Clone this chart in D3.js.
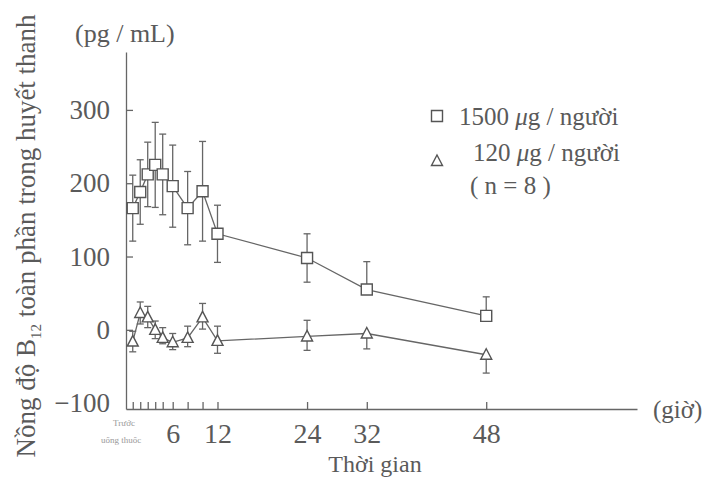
<!DOCTYPE html>
<html>
<head>
<meta charset="utf-8">
<script src="https://cdn.jsdelivr.net/npm/d3@7"></script>
<style>
  body { margin: 0; background: #fff; }
  svg text { font-family: "Liberation Serif", "DejaVu Serif", serif; }
</style>
</head>
<body>
<div id="chart"></div>
<script>
// data (hours, pg/mL)
var times = [0, 1, 2, 3, 4, 6, 8, 10, 12, 24, 32, 48]
var tickLabels = { 6: '6', 12: '12', 24: '24', 32: '32', 48: '48' }
var yTicks = [-100, 0, 100, 200, 300]

var dose1500 = [166, 188, 212, 225, 212, 196, 166, 189, 131, 98, 55, 19]
var dose1500Up = [45, 44, 44, 58, 55, 56, 50, 68, 39, 33, 38, 26]
var dose1500Down = [45, 44, 44, 58, 55, 56, 50, 68, 39, 33, 0, 0]

var dose120 = [-16, 23, 17, 0, -11, -17, -11, 17, -15, -9, -5, -34]
var dose120Up = [14, 15, 15, 12, 14, 12, 16, 19, 20, 22, 0, 0]
var dose120Down = [14, 15, 14, 12, 8, 10, 12, 16, 17, 19, 21, 25]

var width = 706
var height = 485
var ink = '#666'
var textInk = '#5a5a5a'

var svg = d3.select('#chart')
  .append('svg')
  .attr('width', width)
  .attr('height', height)

// x scale is stretched a bit at the start, like the original
var x = d3.scaleLinear()
  .domain([-0.9, 4, 6, 68.2])
  .range([126, 162.7, 172.7, 637])

var y = d3.scaleLinear()
  .domain([-108, 379])
  .range([409, 52])

// axes
var yAxis = svg.append('g')
  .attr('transform', 'translate(126,0)')
  .call(d3.axisLeft(y).tickValues(yTicks).tickSize(-7).tickSizeOuter(0).tickPadding(16))
yAxis.selectAll('.tick').filter(d => d === -100).select('line').remove()
yAxis.selectAll('text').style('font-size', '27px').style('fill', textInk)
  .text(d => d < 0 ? '\u2212' + Math.abs(d) : d)

var xAxis = svg.append('g')
  .attr('transform', 'translate(0,409)')
  .call(d3.axisBottom(x).tickValues(times).tickSize(-7).tickSizeOuter(0).tickPadding(14)
    .tickFormat(d => tickLabels[d] || ''))
xAxis.selectAll('text').style('font-size', '28px').style('fill', textInk)

svg.selectAll('.domain, .tick line').attr('stroke', ink).attr('stroke-width', 1.3)

// tiny label under first tick
var pre = svg.append('text')
  .attr('text-anchor', 'middle')
  .style('font-size', '9px')
  .style('fill', '#999')
pre.append('tspan').attr('x', 124).attr('y', 426).text('Trước')
pre.append('tspan').attr('x', 121).attr('y', 443).text('uống thuốc')

// axis titles
var yTitle = svg.append('text')
  .attr('transform', 'translate(35,236) rotate(-90)')
  .attr('text-anchor', 'middle')
  .style('font-size', '27px')
  .style('fill', textInk)
yTitle.append('tspan').text('Nồng độ B')
yTitle.append('tspan').style('font-size', '15px').attr('dy', 6).text('12')
yTitle.append('tspan').attr('dy', -6).text(' toàn phần trong huyết thanh')

svg.append('text')
  .attr('x', 75).attr('y', 42)
  .style('font-size', '26px')
  .style('fill', textInk)
  .text('(pg / mL)')

svg.append('text')
  .attr('x', 375).attr('y', 472)
  .attr('text-anchor', 'middle')
  .style('font-size', '24px')
  .style('fill', textInk)
  .text('Thời gian')

svg.append('text')
  .attr('x', 653).attr('y', 418)
  .style('font-size', '25px')
  .style('fill', textInk)
  .text('(giờ)')

// series
function drawSeries(values, up, down, shape) {
  var pts = times.map((t, i) => ({ t: t, v: values[i], up: up[i], down: down[i] }))
  var g = svg.append('g')

  g.append('path')
    .datum(pts)
    .attr('fill', 'none')
    .attr('stroke', ink)
    .attr('stroke-width', 1.3)
    .attr('d', d3.line().x(d => x(d.t)).y(d => y(d.v)))

  var bars = g.selectAll('.err')
    .data(pts)
    .enter()
    .append('g')
  bars.append('line')
    .attr('x1', d => x(d.t)).attr('x2', d => x(d.t))
    .attr('y1', d => y(d.v + d.up)).attr('y2', d => y(d.v - d.down))
    .attr('stroke', ink).attr('stroke-width', 1.3)
  bars.filter(d => d.up > 0).append('line')
    .attr('x1', d => x(d.t) - 3.5).attr('x2', d => x(d.t) + 3.5)
    .attr('y1', d => y(d.v + d.up)).attr('y2', d => y(d.v + d.up))
    .attr('stroke', ink).attr('stroke-width', 1.3)
  bars.filter(d => d.down > 0).append('line')
    .attr('x1', d => x(d.t) - 3.5).attr('x2', d => x(d.t) + 3.5)
    .attr('y1', d => y(d.v - d.down)).attr('y2', d => y(d.v - d.down))
    .attr('stroke', ink).attr('stroke-width', 1.3)

  g.selectAll('.mark')
    .data(pts)
    .enter()
    .append('path')
    .attr('transform', d => 'translate(' + x(d.t) + ',' + y(d.v) + ')')
    .attr('d', shape)
    .attr('fill', '#fff')
    .attr('stroke', '#555')
    .attr('stroke-width', 1.4)
}

var squarePath = 'M-5.5,-5.5H5.5V5.5H-5.5Z'
var trianglePath = 'M0,-6L5.5,4.5H-5.5Z'

drawSeries(dose1500, dose1500Up, dose1500Down, squarePath)
drawSeries(dose120, dose120Up, dose120Down, trianglePath)

// legend
var legend = svg.append('g')
legend.append('path')
  .attr('transform', 'translate(437,116)')
  .attr('d', squarePath)
  .attr('fill', '#fff').attr('stroke', '#555').attr('stroke-width', 1.4)
legend.append('path')
  .attr('transform', 'translate(437,161)')
  .attr('d', trianglePath)
  .attr('fill', '#fff').attr('stroke', '#555').attr('stroke-width', 1.4)

var legendRows = [
  { x: 459, y: 125, pre: '1500 ', post: 'g / người' },
  { x: 473, y: 161, pre: '120 ', post: 'g / người' }
]
legendRows.forEach(r => {
  var t = legend.append('text').attr('x', r.x).attr('y', r.y)
    .style('font-size', '25px').style('fill', textInk)
  t.append('tspan').text(r.pre)
  t.append('tspan').style('font-style', 'italic').text('μ')
  t.append('tspan').text(r.post)
})

legend.append('text').attr('x', 470).attr('y', 194)
  .style('font-size', '25px').style('fill', textInk)
  .text('( n = 8 )')
</script>
</body>
</html>
